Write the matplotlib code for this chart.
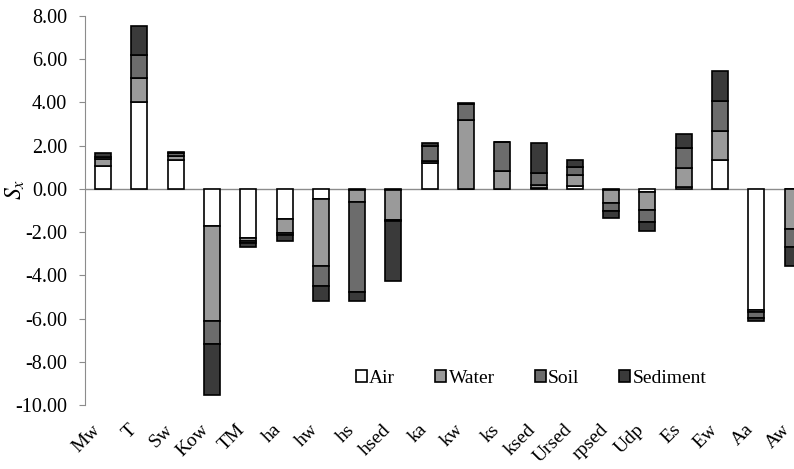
"""
Sensitivity coefficients S_x of each input parameter, split by
environmental compartment (air, water, soil, sediment).
"""

import numpy as np
import matplotlib
matplotlib.use("Agg")
import matplotlib.pyplot as plt
from matplotlib.transforms import ScaledTranslation

# Parameters on the x axis
categorias = ['Mw', 'T', 'Sw', 'Kow', 'TM', 'ha', 'hw', 'hs', 'hsed', 'ka',
              'kw', 'ks', 'ksed', 'Ursed', 'rpsed', 'Udp', 'Es', 'Ew', 'Aa', 'Aw']

# Contribution of each compartment to S_x
air = [1.06, 4.00, 1.34, -1.74, -2.28, -1.40, -0.45, -0.03, -0.03, 1.20,
       0.00, 0.00, 0.02, 0.12, -0.05, -0.15, 0.10, 1.34, -5.60, 0.00]
water = [0.30, 1.11, 0.20, -4.36, -0.12, -0.62, -3.14, -0.56, -1.40, 0.10,
         3.19, 0.85, 0.16, 0.50, -0.60, -0.85, 0.85, 1.35, -0.08, -1.86]
soil = [0.12, 1.08, 0.10, -1.06, -0.11, -0.10, -0.89, -4.20, -0.05, 0.70,
        0.72, 1.30, 0.54, 0.40, -0.38, -0.51, 0.93, 1.39, -0.30, -0.85]
sediment = [0.20, 1.34, 0.08, -2.40, -0.20, -0.31, -0.69, -0.38, -2.77, 0.12,
            0.05, 0.04, 1.42, 0.30, -0.32, -0.43, 0.65, 1.38, -0.12, -0.85]

yticks = [8, 6, 4, 2, 0, -2, -4, -6, -8, -10]


def desenhar():
    plt.rcParams['font.family'] = ['Liberation Serif', 'DejaVu Serif']
    plt.rcParams['mathtext.fontset'] = 'stix'

    fig = plt.figure(figsize=(7.94, 4.69), dpi=100)
    ax = fig.add_axes([0.107, 0.1365, 0.893, 0.8294])

    x = np.arange(len(categorias))
    series = [('Air', air, 'white'),
              ('Water', water, '#9a9a9a'),
              ('Soil', soil, '#6c6c6c'),
              ('Sediment', sediment, '#3a3a3a')]

    # stack positives upward and negatives downward from zero
    pos = np.zeros(len(x))
    neg = np.zeros(len(x))
    for nome, valores, cor in series:
        v = np.array(valores)
        base = np.where(v >= 0, pos, neg)
        ax.bar(x, v, width=0.44, bottom=base, color=cor,
               edgecolor='black', linewidth=1.2, label=nome, zorder=3)
        pos = pos + np.where(v >= 0, v, 0)
        neg = neg + np.where(v < 0, v, 0)

    ax.axhline(0, color='#8c8c8c', linewidth=1.0, zorder=2)

    ax.set_xlim(-0.5, 19.04)
    ax.set_ylim(-10, 8)
    ax.set_yticks(yticks)
    ax.set_yticklabels([f'{t:.2f}' for t in yticks], fontsize=14.5)
    ax.tick_params(axis='y', direction='out', length=4, color='#8c8c8c', pad=9)

    ax.set_xticks(x)
    ax.set_xticklabels(categorias, fontsize=14, rotation=45,
                       ha='right', va='center', rotation_mode='anchor')
    ax.tick_params(axis='x', length=0, pad=16)
    desloc = ScaledTranslation(-4 / 72, 0, fig.dpi_scale_trans)
    for rotulo in ax.get_xticklabels():
        rotulo.set_transform(rotulo.get_transform() + desloc)

    for lado in ['top', 'right', 'bottom']:
        ax.spines[lado].set_visible(False)
    ax.spines['left'].set_color('#8c8c8c')

    ax.set_ylabel(r'$S_x$', fontsize=17)
    ax.yaxis.set_label_coords(-0.082, 0.553)

    fig.legend(loc='center', bbox_to_anchor=(0.669, 0.194), ncol=4,
               frameon=False, fontsize=14, handlelength=0.57,
               handleheight=0.57, handletextpad=0.12, columnspacing=2.05)

    fig.savefig('out.png', dpi=100)


if __name__ == "__main__":
    desenhar()
